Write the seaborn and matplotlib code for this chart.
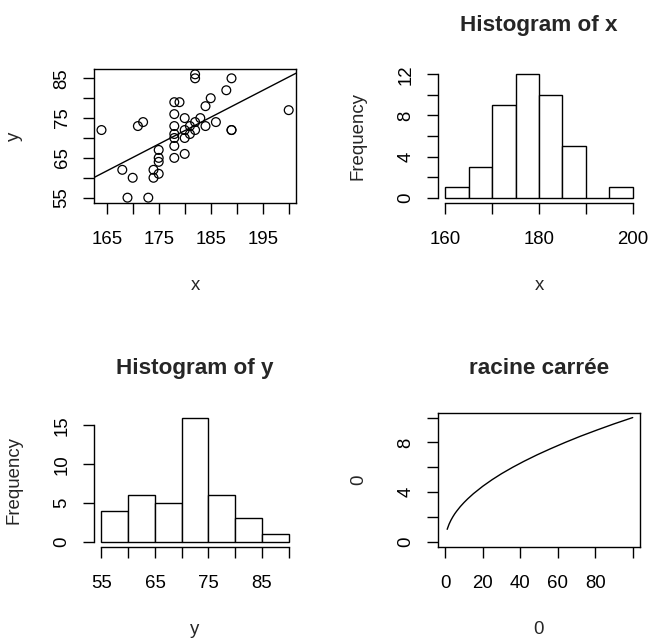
import numpy as np
import pandas as pd
import matplotlib
matplotlib.use("Agg")
import matplotlib.pyplot as plt
import seaborn as sns

# ---------------- data ----------------
height_x = [164, 168, 169, 170, 171, 172, 173, 174, 174, 175, 175, 175, 175,
            178, 178, 178, 178, 178, 178, 178, 179, 180, 180, 180, 180,
            181, 181, 182, 182, 182, 182, 183, 184, 184, 185, 186, 188,
            189, 189, 189, 200]
weight_y = [72, 62, 55, 60, 73, 74, 55, 60, 62, 61, 64, 65, 67,
            79, 76, 73, 71, 70, 68, 65, 79, 75, 72, 70, 66,
            73, 71, 86, 85, 74, 72, 75, 78, 73, 80, 74, 82,
            85, 72, 72, 77]

x_bins = [160, 165, 170, 175, 180, 185, 190, 195, 200]
y_bins = [55, 60, 65, 70, 75, 80, 85, 90]

sqrt_x = [1, 2, 3, 4, 5, 6, 8, 10, 12, 15, 20, 25, 30, 36, 42, 49, 56, 64, 72, 81, 90, 100]
sqrt_y = [1.00, 1.41, 1.73, 2.00, 2.24, 2.45, 2.83, 3.16, 3.46, 3.87, 4.47, 5.00,
          5.48, 6.00, 6.48, 7.00, 7.48, 8.00, 8.49, 9.00, 9.49, 10.00]
sqrt_xlim = [0, 100]
sqrt_ylim = [0, 10]

# tick positions and labels
tl_xticks = [165, 170, 175, 180, 185, 190, 195, 200]
tl_xlabels = ["165", "", "175", "", "185", "", "195", ""]
tl_yticks = [55, 60, 65, 70, 75, 80, 85]
tl_ylabels = ["55", "", "65", "", "75", "", "85"]
tr_xticks = [160, 170, 180, 190, 200]
tr_xlabels = ["160", "", "180", "", "200"]
tr_yticks = [0, 2, 4, 6, 8, 10, 12]
tr_ylabels = ["0", "", "4", "", "8", "", "12"]
bl_xticks = [55, 60, 65, 70, 75, 80, 85, 90]
bl_xlabels = ["55", "", "65", "", "75", "", "85", ""]
bl_yticks = [0, 5, 10, 15]
bl_ylabels = ["0", "5", "10", "15"]
br_xticks = [0, 20, 40, 60, 80, 100]
br_xlabels = ["0", "20", "40", "60", "80", ""]
br_yticks = [0, 2, 4, 6, 8, 10]
br_ylabels = ["0", "", "4", "", "8", ""]

titles = ["", "Histogram of x", "Histogram of y", "racine carrée"]
xlabels = ["x", "x", "y", "0"]
ylabels = ["y", "Frequency", "Frequency", "0"]

# ---------------- style ----------------
sns.set_style("white")
plt.rcParams["font.family"] = ["Liberation Sans", "DejaVu Sans"]
FS = 13.4
TFS = 16.2
LW = 1.0

W, H = 649, 639
fig = plt.figure(figsize=(W / 100, H / 100), dpi=100)


def rect(l, t, r, b):
    return [l / W, 1 - b / H, (r - l) / W, (b - t) / H]


def rlim(lo, hi):
    d = (hi - lo) * 0.04
    return lo - d, hi + d


ax_tl = fig.add_axes(rect(94, 69.4, 296.2, 202.6))
ax_tr = fig.add_axes(rect(437.8, 69.4, 640.2, 202.6))
ax_bl = fig.add_axes(rect(94, 412.6, 296.2, 546.7))
ax_br = fig.add_axes(rect(437.8, 412.6, 640.2, 546.7))
axes = [ax_tl, ax_tr, ax_bl, ax_br]

# ---- scatter + regression line ----
ax_tl.set_xlim(*rlim(min(height_x), max(height_x)))
ax_tl.set_ylim(*rlim(min(weight_y), max(weight_y)))
sns.scatterplot(x=np.array(height_x), y=np.array(weight_y), ax=ax_tl,
                marker="o", s=40, facecolor="none", edgecolor="black",
                linewidth=0.9, color="black")
sns.regplot(x=np.array(height_x, float), y=np.array(weight_y, float), ax=ax_tl,
            scatter=False, ci=None, truncate=False,
            line_kws=dict(color="black", lw=LW))
ax_tl.set_xlim(*rlim(min(height_x), max(height_x)))
ax_tl.set_ylim(*rlim(min(weight_y), max(weight_y)))


# ---- histograms (R style right-closed bins) ----
def r_hist(ax, vals, edges):
    cats = pd.cut(pd.Series(vals), bins=edges, right=True, include_lowest=True)
    counts = cats.value_counts(sort=False).values
    centers = [(a + b) / 2 for a, b in zip(edges[:-1], edges[1:])]
    sns.histplot(x=centers, weights=counts, bins=edges, ax=ax,
                 color="white", edgecolor="black", linewidth=LW, alpha=1)
    return counts


cx = r_hist(ax_tr, height_x, x_bins)
ax_tr.set_xlim(*rlim(x_bins[0], x_bins[-1]))
ax_tr.set_ylim(*rlim(0, max(cx)))
cy = r_hist(ax_bl, weight_y, y_bins)
ax_bl.set_xlim(*rlim(y_bins[0], y_bins[-1]))
ax_bl.set_ylim(*rlim(0, max(cy)))

# ---- sqrt curve ----
sns.lineplot(x=sqrt_x, y=sqrt_y, ax=ax_br, color="black", lw=LW)
ax_br.set_xlim(*rlim(*sqrt_xlim))
ax_br.set_ylim(*rlim(*sqrt_ylim))

# ---------------- axes decoration ----------------
tick_sets = [
    (tl_xticks, tl_xlabels, tl_yticks, tl_ylabels),
    (tr_xticks, tr_xlabels, tr_yticks, tr_ylabels),
    (bl_xticks, bl_xlabels, bl_yticks, bl_ylabels),
    (br_xticks, br_xlabels, br_yticks, br_ylabels),
]
boxed = [True, False, False, True]

for ax, (xt, xl, yt, yl), box, ti, xlab, ylab in zip(axes, tick_sets, boxed,
                                                      titles, xlabels, ylabels):
    ax.set_xticks(xt)
    ax.set_xticklabels(xl)
    ax.set_yticks(yt)
    ax.set_yticklabels(yl, rotation=90, va="center")
    ax.tick_params(axis="both", direction="out", length=7.9, width=LW,
                   labelsize=FS, color="black", labelcolor="black",
                   bottom=True, left=True)
    ax.tick_params(axis="x", pad=12.8)
    ax.tick_params(axis="y", pad=9.0)
    ax.grid(False)
    for sp in ax.spines.values():
        sp.set_color("black")
        sp.set_linewidth(LW)
    if not box:
        ax.spines["top"].set_visible(False)
        ax.spines["right"].set_visible(False)
        ax.spines["bottom"].set_bounds(xt[0], xt[-1])
        ax.spines["left"].set_bounds(yt[0], yt[-1])
    ax.set_xlabel(xlab, fontsize=FS, va="baseline")
    ax.set_ylabel(ylab, fontsize=FS, rotation=90, rotation_mode="anchor",
                  ha="center", va="baseline")
    hpx = ax.get_position().height * H
    wpx = ax.get_position().width * W
    ax.xaxis.set_label_coords(0.5, -87 / hpx)
    ax.yaxis.set_label_coords(-75 / wpx, 0.5)
    if ti:
        ax.set_title(ti, fontsize=TFS, fontweight="bold", y=1 + 38.7 / hpx,
                     pad=0, va="baseline")

fig.savefig("out.png", dpi=100, facecolor="white")
